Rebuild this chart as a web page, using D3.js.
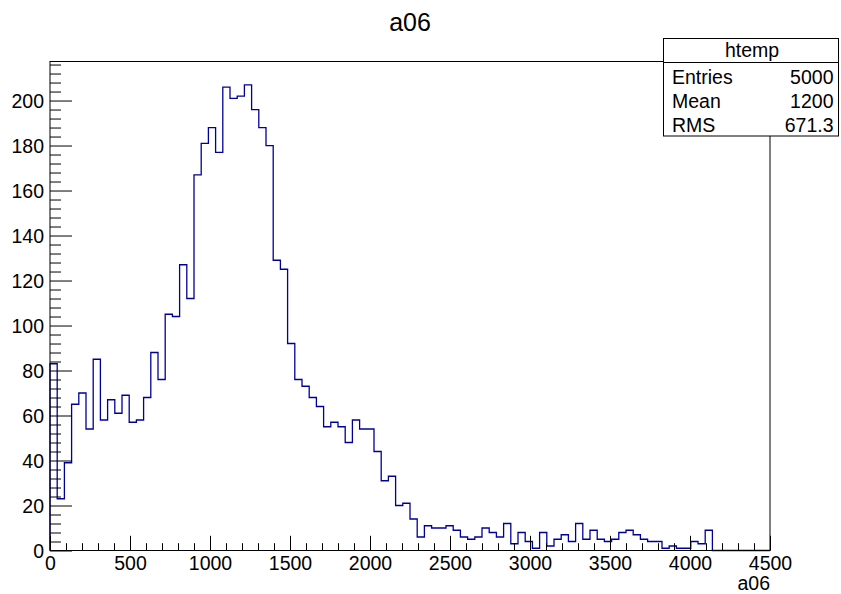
<!DOCTYPE html>
<html>
<head>
<meta charset="utf-8">
<script src="https://cdn.jsdelivr.net/npm/d3@7"></script>
<style>
  html, body { margin: 0; padding: 0; background: #ffffff; }
  svg { display: block; }
  text { font-family: "Liberation Sans", Arial, Helvetica, sans-serif; fill: #000; }
</style>
</head>
<body>
<div id="chart"></div>
<script>
// Histogram of a06: 100 bins of width 45 between 0 and 4500
const histTitle = "a06";
const xAxisTitle = "a06";
const xMin = 0;
const xMax = 4500;
const binWidth = 45;
const counts = [
  83, 23, 39, 65, 70, 54, 85, 58, 67, 61,
  69, 57, 58, 68, 88, 76, 105, 104, 127, 112,
  167, 181, 188, 177, 206, 201, 202, 207, 196, 188,
  180, 129, 125, 92, 76, 73, 68, 64, 55, 57,
  55, 48, 58, 54, 54, 44, 31, 33, 20, 21,
  14, 6, 11, 10, 10, 11, 9, 6, 5, 6,
  10, 8, 6, 12, 3, 8, 4, 1, 8, 2,
  5, 7, 4, 12, 5, 9, 5, 4, 5, 8,
  9, 7, 5, 4, 4, 1, 2, 1, 1, 4,
  3, 9, 0, 0, 0, 0, 0, 0, 0, 0
];
const xTickValues = [0, 500, 1000, 1500, 2000, 2500, 3000, 3500, 4000, 4500];
const yTickValues = [0, 20, 40, 60, 80, 100, 120, 140, 160, 180, 200];
const statsName = "htemp";
const statsLabels = ["Entries", "Mean", "RMS"];
const statsValues = ["5000", "1200", "671.3"];

const W = 841, H = 594;
const frame = { left: 50, right: 770, top: 61.5, bottom: 550.5 };

const svg = d3.select("#chart").append("svg")
  .attr("width", W).attr("height", H);
svg.append("rect").attr("width", W).attr("height", H).attr("fill", "#fff");

const yMax = 1.05 * d3.max(counts);
const x = d3.scaleLinear().domain([xMin, xMax]).range([frame.left, frame.right]);
const y = d3.scaleLinear().domain([0, yMax]).range([frame.bottom, frame.top]);

// Title
svg.append("text")
  .attr("x", 410).attr("y", 31)
  .attr("text-anchor", "middle")
  .style("font-size", "25px")
  .text(histTitle);

// Histogram outline (step line)
const pts = [[x(xMin), y(0)]];
counts.forEach((c, i) => {
  const lo = xMin + i * binWidth, hi = lo + binWidth;
  pts.push([x(lo), y(c)], [x(hi), y(c)]);
});
pts.push([x(xMax), y(0)]);
svg.append("path")
  .attr("d", d3.line()(pts))
  .attr("fill", "none")
  .attr("stroke", "#000099")
  .attr("stroke-width", 1.3);

// Frame, drawn over the histogram
svg.append("rect")
  .attr("x", frame.left).attr("y", frame.top)
  .attr("width", frame.right - frame.left)
  .attr("height", frame.bottom - frame.top)
  .attr("fill", "none").attr("stroke", "#000").attr("stroke-width", 1);

// X axis: ticks point up into the frame
const xMajorLen = 14.7, xMinorLen = 7.3;
const xAxis = d3.axisTop(x)
  .tickValues(d3.range(xMin, xMax + 1, 100))
  .tickSize(0)
  .tickFormat("");
const gx = svg.append("g").attr("transform", `translate(0,${frame.bottom})`).call(xAxis);
gx.select(".domain").remove();
gx.selectAll(".tick line")
  .attr("y2", d => (d % 500 === 0 ? -xMajorLen : -xMinorLen))
  .attr("stroke", "#000");
const gxl = svg.append("g").attr("transform", `translate(0,${frame.bottom})`)
  .call(d3.axisBottom(x).tickValues(xTickValues).tickSize(0).tickPadding(0).tickFormat(d3.format("d")));
gxl.select(".domain").remove();
gxl.selectAll(".tick text")
  .attr("y", 19).attr("dy", 0)
  .style("font-size", "19.5px")
  .style("font-family", "'Liberation Sans', Arial, sans-serif");

// Y axis: ticks point right into the frame
const yMajorLen = 22, yMinorLen = 11;
const yMinor = d3.range(0, yMax, 4);
const gy = svg.append("g").attr("transform", `translate(${frame.left},0)`)
  .call(d3.axisRight(y).tickValues(yMinor).tickSize(0).tickFormat(""));
gy.select(".domain").remove();
gy.selectAll(".tick line")
  .attr("x2", d => (d % 20 === 0 ? yMajorLen : yMinorLen))
  .attr("stroke", "#000");
const gyl = svg.append("g").attr("transform", `translate(${frame.left},0)`)
  .call(d3.axisLeft(y).tickValues(yTickValues).tickSize(0).tickPadding(0).tickFormat(d3.format("d")));
gyl.select(".domain").remove();
gyl.selectAll(".tick text")
  .attr("x", -6).attr("dy", "0.36em")
  .style("font-size", "19.5px")
  .style("font-family", "'Liberation Sans', Arial, sans-serif");

// X axis title
svg.append("text")
  .attr("x", frame.right).attr("y", 590)
  .attr("text-anchor", "end")
  .style("font-size", "19.5px")
  .text(xAxisTitle);

// Statistics box
const box = { x: 663.5, y: 38.5, w: 175, h: 97.5, header: 62.5 };
svg.append("rect")
  .attr("x", box.x).attr("y", box.y).attr("width", box.w).attr("height", box.h)
  .attr("fill", "#fff").attr("stroke", "#000").attr("stroke-width", 1);
svg.append("line")
  .attr("x1", box.x).attr("x2", box.x + box.w)
  .attr("y1", box.header).attr("y2", box.header)
  .attr("stroke", "#000");
svg.append("text")
  .attr("x", box.x + box.w / 2 + 1).attr("y", 57)
  .attr("text-anchor", "middle")
  .style("font-size", "19.5px")
  .text(statsName);
const rowBase = [84, 108, 131.5];
statsLabels.forEach((lab, i) => {
  svg.append("text").attr("x", 672).attr("y", rowBase[i])
    .style("font-size", "19.5px").text(lab);
  svg.append("text").attr("x", 833.5).attr("y", rowBase[i])
    .attr("text-anchor", "end")
    .style("font-size", "19.5px").text(statsValues[i]);
});
</script>
</body>
</html>
